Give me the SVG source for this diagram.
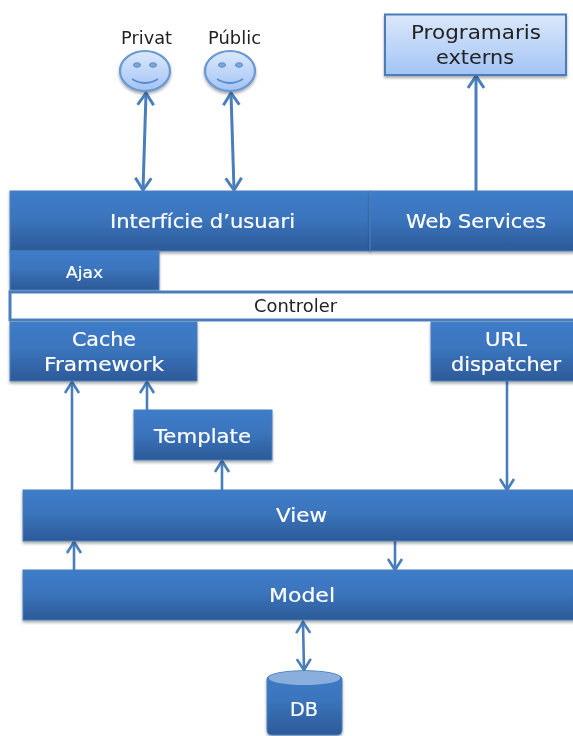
<svg xmlns="http://www.w3.org/2000/svg" width="573" height="736" viewBox="0 0 573 736">
<defs>
<linearGradient id="blue" x1="0" y1="0" x2="0" y2="1"><stop offset="0" stop-color="#3e7cc9"/><stop offset="0.45" stop-color="#3b75bd"/><stop offset="1" stop-color="#2c5a98"/></linearGradient>
<linearGradient id="light" x1="0" y1="0" x2="0" y2="1"><stop offset="0" stop-color="#dbe8fb"/><stop offset="1" stop-color="#a3c4f5"/></linearGradient>
<filter id="shadow" x="-5%" y="-10%" width="110%" height="125%"><feGaussianBlur in="SourceGraphic" stdDeviation="0.35" result="s"/><feGaussianBlur in="SourceAlpha" stdDeviation="1.5"/><feOffset dy="2"/><feComponentTransfer><feFuncA type="linear" slope="0.35"/></feComponentTransfer><feMerge><feMergeNode/><feMergeNode in="s"/></feMerge></filter>
<filter id="soft" x="-20%" y="-20%" width="140%" height="140%"><feGaussianBlur stdDeviation="0.35"/></filter>
<filter id="softAll" filterUnits="userSpaceOnUse" x="0" y="0" width="573" height="736"><feGaussianBlur stdDeviation="0.4"/></filter>
<marker id="head" markerUnits="userSpaceOnUse" markerWidth="24" markerHeight="24" refX="16" refY="10" orient="auto-start-reverse" overflow="visible"><path d="M4 2 L16 10 L4 18" fill="none" stroke="#4a7ebb" stroke-width="3"/></marker>
<marker id="heads" markerUnits="userSpaceOnUse" markerWidth="24" markerHeight="24" refX="16" refY="10" orient="auto-start-reverse" overflow="visible"><path d="M5 3 L16 10 L5 17" fill="none" stroke="#4a7ebb" stroke-width="2.600"/></marker>
</defs>
<style>
text{font-family:"DejaVu Sans","Liberation Sans",sans-serif;text-anchor:middle;filter:url(#soft)}
.b{fill:url(#blue);stroke:#4a7ebb;stroke-width:1;filter:url(#shadow)}
.w{fill:#fff;font-size:20px;stroke:#fff;stroke-width:0.2}
.k{fill:#222;font-size:17px}
.c{fill:none;stroke:#4a7ebb;stroke-width:3}
.c2{stroke-width:2.600;marker-end:url(#heads)}
.face{fill:url(#light);stroke:#6a98d2;stroke-width:2.200}
</style>
<rect width="573" height="736" fill="#fff"/>
<g id="connectors" filter="url(#softAll)">
<path class="c" style="marker-start:url(#head);marker-end:url(#head)" d="M146 93 L143 190"/>
<path class="c" style="marker-start:url(#head);marker-end:url(#head)" d="M231 93 L234 190"/>
<path class="c" style="marker-end:url(#head)" d="M476 191 L476 76"/>
<path class="c c2" d="M72 490 L72 382"/>
<path class="c c2" d="M147 410 L147 382"/>
<path class="c c2" d="M222 490 L222 461"/>
<path class="c c2" d="M507 381 L507 490"/>
<path class="c c2" d="M74 570 L74 542"/>
<path class="c c2" d="M395 541 L395 570"/>
<path class="c" style="stroke-width:2.600;marker-start:url(#heads);marker-end:url(#heads)" d="M303 622 L304 670"/>
</g>
<g id="privat"><text class="k" x="146.500" y="44" textLength="51" lengthAdjust="spacingAndGlyphs">Privat</text>
<g filter="url(#shadow)"><ellipse class="face" cx="145" cy="71" rx="25" ry="20"/><ellipse cx="137" cy="65" rx="3.500" ry="2.200" fill="#7fa6dc" stroke="#5b8bc9"/><ellipse cx="153" cy="65" rx="3.500" ry="2.200" fill="#7fa6dc" stroke="#5b8bc9"/><path d="M132 79 Q145 87 158 79" fill="none" stroke="#5b8bc9" stroke-width="1.800"/></g></g>
<g id="public"><text class="k" x="234.500" y="44" textLength="53" lengthAdjust="spacingAndGlyphs">Públic</text>
<g filter="url(#shadow)"><ellipse class="face" cx="230" cy="71" rx="25" ry="20"/><ellipse cx="222" cy="65" rx="3.500" ry="2.200" fill="#7fa6dc" stroke="#5b8bc9"/><ellipse cx="239" cy="65" rx="3.500" ry="2.200" fill="#7fa6dc" stroke="#5b8bc9"/><path d="M217 79 Q230 87 243 79" fill="none" stroke="#5b8bc9" stroke-width="1.800"/></g></g>
<g id="programaris"><rect x="385" y="14.500" width="181" height="60.500" fill="url(#light)" stroke="#4a7ebb" stroke-width="2" filter="url(#shadow)"/><text class="k" style="font-size:20px" x="476" y="39" textLength="130" lengthAdjust="spacingAndGlyphs">Programaris</text><text class="k" style="font-size:20px" x="475" y="64" textLength="78" lengthAdjust="spacingAndGlyphs">externs</text></g>
<g id="interficie"><rect class="b" x="10" y="191" width="360" height="60"/><text class="w" x="202.500" y="228" textLength="185" lengthAdjust="spacingAndGlyphs">Interfície d’usuari</text></g>
<g id="webservices"><rect class="b" x="370" y="191" width="205" height="60"/><text class="w" x="476" y="228" textLength="140" lengthAdjust="spacingAndGlyphs">Web Services</text></g>
<g id="ajax"><rect class="b" x="10" y="251" width="149" height="39"/><text class="w" style="font-size:16px" x="84.500" y="278" textLength="37" lengthAdjust="spacingAndGlyphs">Ajax</text></g>
<g id="controler"><rect x="10" y="292" width="566" height="28" fill="#fff" stroke="#4a7ebb" stroke-width="3"/><text class="k" x="295.500" y="312" textLength="83" lengthAdjust="spacingAndGlyphs">Controler</text></g>
<g id="cache"><rect class="b" x="10" y="322" width="187" height="59"/><text class="w" x="104" y="346" textLength="64" lengthAdjust="spacingAndGlyphs">Cache</text><text class="w" x="104" y="371" textLength="120" lengthAdjust="spacingAndGlyphs">Framework</text></g>
<g id="url"><rect class="b" x="431" y="322" width="145" height="59"/><text class="w" x="506" y="346" textLength="42" lengthAdjust="spacingAndGlyphs">URL</text><text class="w" x="506" y="371" textLength="110" lengthAdjust="spacingAndGlyphs">dispatcher</text></g>
<g id="template"><rect class="b" x="134" y="410" width="138" height="50"/><text class="w" x="202.500" y="443" textLength="97" lengthAdjust="spacingAndGlyphs">Template</text></g>
<g id="view"><rect class="b" x="23" y="490" width="553" height="51"/><text class="w" x="301.500" y="522" textLength="51" lengthAdjust="spacingAndGlyphs">View</text></g>
<g id="model"><rect class="b" x="23" y="570" width="553" height="50"/><text class="w" x="302" y="602" textLength="66" lengthAdjust="spacingAndGlyphs">Model</text></g>
<g id="db"><path class="b" d="M267 679 C267 668 342 668 342 679 V730 Q342 735 337 735 H272 Q267 735 267 730 Z"/><ellipse cx="304.500" cy="678" rx="36" ry="7" fill="#8aafdd"/><text class="w" x="304" y="716" textLength="28" lengthAdjust="spacingAndGlyphs">DB</text></g>
</svg>
